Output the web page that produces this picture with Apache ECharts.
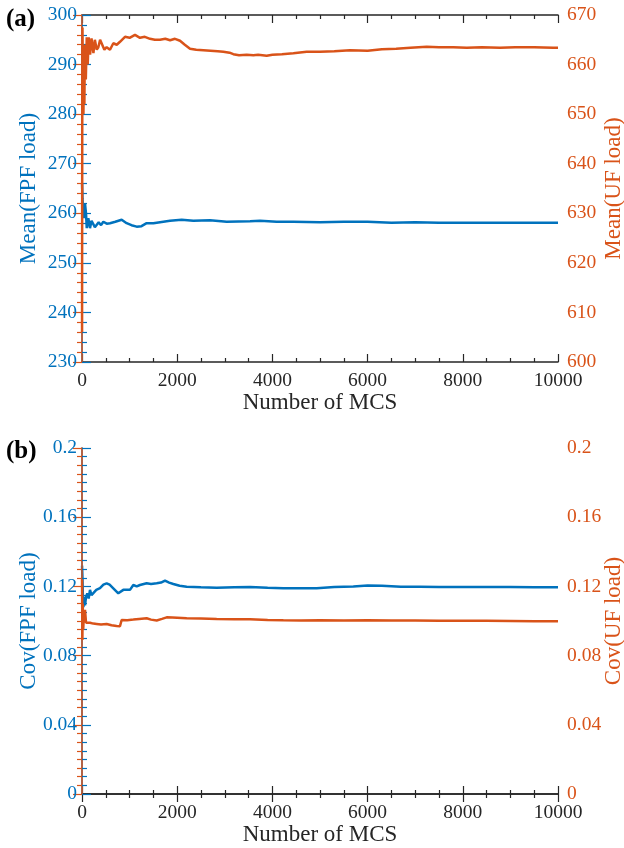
<!DOCTYPE html>
<html>
<head>
<meta charset="utf-8">
<script src="https://cdn.jsdelivr.net/npm/echarts@6/dist/echarts.min.js"></script>
<style>
html,body{margin:0;padding:0;background:#fff;overflow:hidden;}
#chart{width:624px;height:848px;}
</style>
</head>
<body>
<div id="chart"></div>
<script>
// Panel (a): running mean of FPF load (left axis) and UF load (right axis)
const meanFpfX = [1, 10, 20, 30, 45, 63, 84, 100, 133, 168, 200, 238, 270, 308, 350, 400, 448, 520, 588, 700, 833, 938, 1040, 1148, 1250, 1358, 1500, 1639, 1849, 2094, 2339, 2689, 3040, 3530, 3740, 4090, 4440, 5000, 5500, 6000, 6500, 7000, 7500, 8000, 8500, 9000, 9500, 10000];
const meanFpfY = [266, 263, 261, 262, 259, 262, 260, 257, 259, 257, 258.5, 258.3, 257.2, 257.3, 258.2, 257.6, 258.3, 257.9, 258, 258.3, 258.7, 258, 257.6, 257.3, 257.4, 258, 258, 258.2, 258.5, 258.7, 258.5, 258.6, 258.3, 258.4, 258.5, 258.3, 258.3, 258.2, 258.3, 258.3, 258.1, 258.2, 258.1, 258.1, 258.1, 258.1, 258.1, 258.1];

const meanUfX = [1, 5, 10, 20, 30, 40, 50, 60, 80, 100, 120, 140, 170, 200, 240, 270, 310, 343, 380, 413, 470, 518, 588, 658, 730, 798, 903, 1000, 1113, 1218, 1320, 1429, 1530, 1639, 1750, 1850, 1954, 2059, 2160, 2269, 2400, 2550, 2700, 2850, 2969, 3100, 3179, 3300, 3460, 3600, 3700, 3880, 4000, 4200, 4440, 4720, 5000, 5300, 5631, 6000, 6300, 6600, 6900, 7242, 7500, 7800, 8083, 8400, 8782, 9100, 9500, 9900, 10000];
const meanUfY = [606, 645, 667.5, 655, 650, 660, 652, 664, 657, 665.5, 660, 665.5, 662, 665.3, 662.3, 665, 663, 663.5, 665, 664.6, 663, 663.5, 663, 664.3, 664, 664.6, 665.6, 665.4, 666, 665.4, 665.6, 665.2, 665, 665, 665.2, 664.9, 665.2, 664.8, 664, 663.2, 663, 662.9, 662.8, 662.7, 662.6, 662.4, 662.1, 661.9, 662, 661.9, 662, 661.8, 662, 662.1, 662.3, 662.6, 662.6, 662.7, 662.9, 662.8, 663.1, 663.2, 663.4, 663.6, 663.5, 663.5, 663.4, 663.5, 663.4, 663.5, 663.5, 663.4, 663.4];

// Panel (b): running coefficient of variation
const covFpfX = [1, 10, 20, 30, 45, 63, 85, 112, 140, 168, 200, 238, 300, 378, 450, 518, 580, 658, 763, 868, 1008, 1078, 1150, 1218, 1358, 1450, 1569, 1660, 1744, 1830, 1919, 2050, 2199, 2500, 2829, 3200, 3530, 3900, 4230, 4600, 4930, 5300, 5700, 6000, 6300, 6700, 7100, 7500, 8000, 8500, 9000, 9500, 10000];
const covFpfY = [0.132, 0.125, 0.112, 0.108, 0.114, 0.109, 0.114, 0.116, 0.113, 0.118, 0.115, 0.116, 0.118, 0.119, 0.121, 0.1218, 0.121, 0.1189, 0.116, 0.118, 0.118, 0.1208, 0.12, 0.1208, 0.1218, 0.1214, 0.1218, 0.1222, 0.1233, 0.1222, 0.1214, 0.1204, 0.1198, 0.1195, 0.1192, 0.1195, 0.1196, 0.1192, 0.1189, 0.1189, 0.119, 0.1196, 0.12, 0.1205, 0.1204, 0.1198, 0.1198, 0.1196, 0.1197, 0.1196, 0.1196, 0.1195, 0.1195];

const covUfX = [1, 8, 15, 25, 40, 63, 85, 112, 168, 238, 308, 400, 518, 620, 728, 798, 833, 950, 1078, 1200, 1358, 1450, 1569, 1680, 1779, 1900, 2199, 2500, 2829, 3200, 3530, 3900, 4230, 4600, 5000, 5500, 6000, 6500, 7000, 7500, 8000, 8500, 9000, 9500, 10000];
const covUfY = [0.124, 0.089, 0.110, 0.095, 0.104, 0.1064, 0.099, 0.0987, 0.099, 0.0985, 0.0983, 0.098, 0.0983, 0.0975, 0.0971, 0.097, 0.1006, 0.1005, 0.1008, 0.1012, 0.1016, 0.1008, 0.1003, 0.1012, 0.1021, 0.102, 0.1016, 0.1014, 0.1012, 0.101, 0.101, 0.1006, 0.1004, 0.1003, 0.1004, 0.1003, 0.1004, 0.1003, 0.1003, 0.1002, 0.1001, 0.1001, 0.1, 0.0999, 0.0998];

const xTickValues = [0, 2000, 4000, 6000, 8000, 10000];
const xRange = [0, 10000];

const BLUE = '#0072BD';
const ORANGE = '#D95319';
const BLACK = '#262626';
const FONT = "'Liberation Serif', 'Times New Roman', serif";

function pairs(xs, ys) { return xs.map((x, i) => [x, ys[i]]); }

function xAxisPair(grid) {
  const common = {
    gridIndex: grid, type: 'value', min: xRange[0], max: xRange[1], interval: 2000,
    splitLine: {show: false},
    axisLine: {show: true, lineStyle: {color: BLACK, width: 1.5}},
    axisTick: {show: true, inside: true, length: 8, lineStyle: {color: BLACK, width: 1.2}},
    minorTick: {show: true, splitNumber: 4, length: 4, lineStyle: {color: BLACK, width: 1.2}}
  };
  return [
    Object.assign({}, common, {
      position: 'bottom',
      name: 'Number of MCS', nameLocation: 'middle', nameGap: 29, nameMoveOverlap: false,
      nameTextStyle: {fontFamily: FONT, fontSize: 23, color: BLACK},
      axisLabel: {show: true, margin: 9, fontFamily: FONT, fontSize: 19.5, color: BLACK,
        formatter: v => xTickValues.indexOf(v) >= 0 ? String(v) : ''}
    }),
    Object.assign({}, common, {position: 'top', axisLabel: {show: false}})
  ];
}

function yAxis(grid, pos, color, min, max, interval, minorSplit, name, margin, gap) {
  return {
    gridIndex: grid, type: 'value', position: pos, min: min, max: max, interval: interval,
    splitLine: {show: false},
    axisLine: {show: true, lineStyle: {color: color, width: 1.5}},
    axisTick: {show: true, inside: true, length: 9, lineStyle: {color: color, width: 1.2}},
    minorTick: {show: true, splitNumber: minorSplit, length: 5, lineStyle: {color: color, width: 1.2}},
    axisLabel: {show: true, margin: margin, fontFamily: FONT, fontSize: 19.5, color: color},
    name: name, nameLocation: 'middle', nameRotate: 90, nameGap: gap, nameMoveOverlap: false,
    nameTextStyle: {fontFamily: FONT, fontSize: 23, color: color},
    z: 3
  };
}

const xa = xAxisPair(0).concat(xAxisPair(1));

const option = {
  animation: false,
  backgroundColor: '#fff',
  title: [
    {text: '(a)', left: 6, top: 7, padding: 0, textStyle: {fontFamily: FONT, fontWeight: 'bold', fontSize: 25, color: '#000'}},
    {text: '(b)', left: 6, top: 439, padding: 0, textStyle: {fontFamily: FONT, fontWeight: 'bold', fontSize: 25, color: '#000'}}
  ],
  grid: [
    {left: 82, top: 15, width: 476, height: 347, containLabel: false, outerBoundsMode: 'none'},
    {left: 82, top: 448, width: 476, height: 346, containLabel: false, outerBoundsMode: 'none'}
  ],
  xAxis: xa,
  yAxis: [
    yAxis(0, 'left', BLUE, 230, 300, 10, 5, 'Mean(FPF load)', 5, 42),
    yAxis(0, 'right', ORANGE, 600, 670, 10, 5, 'Mean(UF load)', 9, 44),
    yAxis(1, 'left', BLUE, 0, 0.2, 0.04, 8, 'Cov(FPF load)', 5, 42),
    yAxis(1, 'right', ORANGE, 0, 0.2, 0.04, 8, 'Cov(UF load)', 9, 44)
  ],
  series: [
    {type: 'line', xAxisIndex: 0, yAxisIndex: 0, data: pairs(meanFpfX, meanFpfY), showSymbol: false, symbol: 'none', lineStyle: {color: BLUE, width: 2.5}, z: 2},
    {type: 'line', xAxisIndex: 0, yAxisIndex: 1, data: pairs(meanUfX, meanUfY), showSymbol: false, symbol: 'none', lineStyle: {color: ORANGE, width: 2.5}, z: 3},
    {type: 'line', xAxisIndex: 2, yAxisIndex: 2, data: pairs(covFpfX, covFpfY), showSymbol: false, symbol: 'none', lineStyle: {color: BLUE, width: 2.5}, z: 2},
    {type: 'line', xAxisIndex: 2, yAxisIndex: 3, data: pairs(covUfX, covUfY), showSymbol: false, symbol: 'none', lineStyle: {color: ORANGE, width: 2.5}, z: 3}
  ]
};

const chart = echarts.init(document.getElementById('chart'), null, {renderer: 'canvas'});
chart.setOption(option);
</script>
</body>
</html>
